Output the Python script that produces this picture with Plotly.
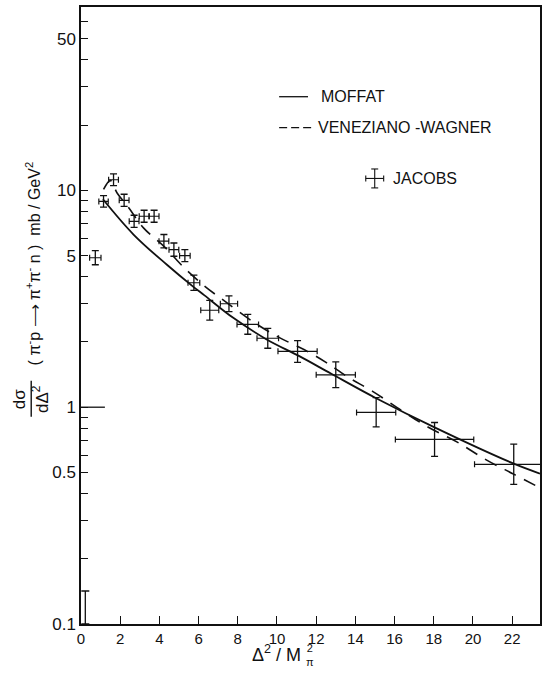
import plotly.graph_objects as go
import math

# ---------------- data ----------------
# Jacobs data points: Delta^2/M_pi^2 and d(sigma)/d(Delta^2) in mb/GeV^2
jac_x = [0.73, 1.15, 1.66, 2.2, 2.71, 3.22, 3.73, 4.23, 4.74, 5.3, 5.76,
         6.57, 7.55, 8.51, 9.53, 11.05, 13.0, 15.06, 18.04, 22.08]
jac_y = [4.89, 8.9, 11.2, 9.0, 7.2, 7.6, 7.6, 5.83, 5.33, 5.0, 3.75,
         2.80, 3.0, 2.41, 2.08, 1.81, 1.41, 0.946, 0.71, 0.545]
jac_xerr = [0.29, 0.24, 0.25, 0.25, 0.25, 0.25, 0.25, 0.25, 0.25, 0.27, 0.3,
            0.46, 0.44, 0.55, 0.55, 1.0, 1.0, 1.0, 2.0, 2.0]
jac_yerr_up = [0.38, 0.56, 0.71, 0.6, 0.48, 0.5, 0.5, 0.43, 0.39, 0.33, 0.32,
               0.31, 0.26, 0.27, 0.23, 0.22, 0.21, 0.16, 0.14, 0.13]
jac_yerr_dn = [0.35, 0.53, 0.67, 0.56, 0.45, 0.47, 0.47, 0.4, 0.36, 0.31, 0.29,
               0.28, 0.24, 0.24, 0.21, 0.20, 0.18, 0.135, 0.117, 0.104]

# off-scale point near the origin (only its upper error bar is visible)
off_x = [0.22]
off_y = [0.1]
off_up = [0.042]

# Moffat curve (solid)
moffat_x = [1.12, 2.68, 4.37, 5.72, 6.3, 7.75, 9.45, 11.14, 12.75, 15.06,
            18.04, 22.08, 23.42]
moffat_y = [9.1, 6.26, 4.55, 3.6, 3.28, 2.59, 2.06, 1.72, 1.43, 1.10,
            0.807, 0.549, 0.494]

# Veneziano-Wagner curve (dashed)
vw_x = [1.15, 1.5, 1.85, 2.4, 3.2, 4.3, 5.1, 6.3, 7.3, 8.8, 10.1, 11.4,
        12.5, 13.6, 14.9, 16.4, 17.7, 19.2, 20.7, 22.1, 23.3]
vw_y = [10.1, 11.1, 9.7, 8.4, 6.7, 5.45, 4.55, 3.62, 3.1, 2.47, 2.1, 1.84,
        1.61, 1.38, 1.18, 0.96, 0.81, 0.69, 0.57, 0.49, 0.43]

# axes
x_tick_vals = [0, 2, 4, 6, 8, 10, 12, 14, 16, 18, 20, 22]
y_tick_vals = [0.1, 0.5, 1, 5, 10, 50]
y_tick_text = ["0.1", "0.5", "1", "5", "10", "50"]
y_minor_vals = [0.2, 0.3, 0.4, 0.6, 0.7, 0.8, 0.9, 2, 3, 4, 6, 7, 8, 9,
                20, 30, 40, 60]
y_long_ticks = [0.5, 1, 10]

FONT = "Liberation Sans, Arial, sans-serif"
INK = "#111111"

fig = go.Figure()

fig.add_trace(go.Scatter(
    x=moffat_x, y=moffat_y, mode="lines",
    line=dict(color=INK, width=1.8, shape="spline", smoothing=1.0),
    showlegend=False, hoverinfo="skip"))

fig.add_trace(go.Scatter(
    x=vw_x, y=vw_y, mode="lines",
    line=dict(color=INK, width=1.6, shape="spline", smoothing=1.0,
              dash="13px,9px"),
    showlegend=False, hoverinfo="skip"))

fig.add_trace(go.Scatter(
    x=jac_x, y=jac_y, mode="markers",
    marker=dict(size=1, color="rgba(0,0,0,0)"),
    error_x=dict(type="data", array=jac_xerr, color=INK, thickness=1.2, width=3),
    error_y=dict(type="data", symmetric=False, array=jac_yerr_up,
                 arrayminus=jac_yerr_dn, color=INK, thickness=1.3, width=3.5),
    showlegend=False, hoverinfo="skip"))

fig.add_trace(go.Scatter(
    x=off_x, y=off_y, mode="markers",
    marker=dict(size=1, color="rgba(0,0,0,0)"),
    error_y=dict(type="data", symmetric=False, array=off_up,
                 arrayminus=[0], color=INK, thickness=1.3, width=4),
    showlegend=False, hoverinfo="skip"))

# ---------------- layout ----------------
L, R, T, B = 81, 5, 5, 51
W, H = 547, 675
pw, ph = W - L - R, H - T - B


def px(xp):
    return (xp - L) / pw


def py(yp):
    return (H - B - yp) / ph


fig.update_layout(
    width=W, height=H,
    margin=dict(l=L, r=R, t=T, b=B),
    paper_bgcolor="white", plot_bgcolor="white",
    font=dict(family=FONT, color=INK),
    showlegend=False,
)

fig.update_xaxes(
    range=[0, 23.42], tickmode="array", tickvals=x_tick_vals,
    ticks="inside", ticklen=8, tickwidth=1.2, tickcolor=INK,
    showline=True, linecolor=INK, linewidth=1.5, mirror=True,
    showgrid=False, zeroline=False,
    tickfont=dict(size=15, family=FONT, color=INK),
)

fig.update_yaxes(
    type="log", range=[-1, 1.846], tickmode="array",
    tickvals=y_tick_vals, ticktext=y_tick_text,
    ticks="inside", ticklen=7, tickwidth=1.2, tickcolor=INK,
    showline=True, linecolor=INK, linewidth=1.5, mirror=True,
    showgrid=False, zeroline=False,
    tickfont=dict(size=17, family=FONT, color=INK),
    minor=dict(tickmode="array", tickvals=y_minor_vals, ticks="inside",
               ticklen=7, tickwidth=1.2, tickcolor=INK, showgrid=False),
)

shapes = []
for v in y_long_ticks:
    shapes.append(dict(type="line", xref="x domain", yref="y",
                       x0=0, x1=24 / pw, y0=math.log10(v), y1=math.log10(v),
                       line=dict(color=INK, width=1.3)))

# legend samples
shapes.append(dict(type="line", xref="paper", yref="paper",
                   x0=px(280), x1=px(309), y0=py(95), y1=py(95),
                   line=dict(color=INK, width=1.3)))
shapes.append(dict(type="line", xref="paper", yref="paper",
                   x0=px(280), x1=px(316), y0=py(126), y1=py(126),
                   line=dict(color=INK, width=1.3, dash="8px,4px")))
# Jacobs glyph
gx, gy = 376, 177
shapes += [
    dict(type="line", xref="paper", yref="paper", x0=px(gx - 9), x1=px(gx + 9),
         y0=py(gy), y1=py(gy), line=dict(color=INK, width=1.1)),
    dict(type="line", xref="paper", yref="paper", x0=px(gx - 9), x1=px(gx - 9),
         y0=py(gy - 3), y1=py(gy + 3), line=dict(color=INK, width=1.1)),
    dict(type="line", xref="paper", yref="paper", x0=px(gx + 9), x1=px(gx + 9),
         y0=py(gy - 3), y1=py(gy + 3), line=dict(color=INK, width=1.1)),
    dict(type="line", xref="paper", yref="paper", x0=px(gx), x1=px(gx),
         y0=py(gy - 9.5), y1=py(gy + 9.5), line=dict(color=INK, width=1.1)),
    dict(type="line", xref="paper", yref="paper", x0=px(gx - 3.5), x1=px(gx + 3.5),
         y0=py(gy - 9.5), y1=py(gy - 9.5), line=dict(color=INK, width=1.1)),
    dict(type="line", xref="paper", yref="paper", x0=px(gx - 3.5), x1=px(gx + 3.5),
         y0=py(gy + 9.5), y1=py(gy + 9.5), line=dict(color=INK, width=1.1)),
]
# fraction bar of d sigma / d Delta^2
shapes.append(dict(type="line", xref="paper", yref="paper",
                   x0=px(31), x1=px(31), y0=py(380), y1=py(416),
                   line=dict(color=INK, width=1.4)))

fig.update_layout(shapes=shapes)

ann = []
ann.append(dict(text="MOFFAT", xref="paper", yref="paper", x=px(320), y=py(95),
                xanchor="left", yanchor="middle", showarrow=False,
                font=dict(size=16, family=FONT, color=INK)))
ann.append(dict(text="VENEZIANO -WAGNER", xref="paper", yref="paper",
                x=px(317), y=py(126), xanchor="left", yanchor="middle",
                showarrow=False, font=dict(size=16, family=FONT, color=INK)))
ann.append(dict(text="JACOBS", xref="paper", yref="paper", x=px(392), y=py(177),
                xanchor="left", yanchor="middle", showarrow=False,
                font=dict(size=16, family=FONT, color=INK)))
# y axis title
ann.append(dict(text="( π<sup>-</sup>p ⟶ π<sup>+</sup>π<sup>-</sup> n )  mb / GeV<sup>2</sup>",
                xref="paper", yref="paper", x=px(33), y=py(262),
                xanchor="center", yanchor="middle", textangle=-90,
                showarrow=False, font=dict(size=16, family=FONT, color=INK)))
ann.append(dict(text="dσ<br>dΔ<sup>2</sup>", xref="paper", yref="paper",
                x=px(31), y=py(398), xanchor="center", yanchor="middle",
                textangle=-90, showarrow=False,
                font=dict(size=17, family=FONT, color=INK)))
# x axis title
ann.append(dict(text="Δ<sup>2</sup> / M", xref="paper", yref="paper",
                x=px(304), y=py(654), xanchor="right", yanchor="middle",
                showarrow=False, font=dict(size=18, family=FONT, color=INK)))
ann.append(dict(text="2<br>π", xref="paper", yref="paper",
                x=px(305), y=py(655), xanchor="left", yanchor="middle",
                showarrow=False, font=dict(size=11, family=FONT, color=INK)))
fig.update_layout(annotations=ann)

fig.write_html("out.html",
               config={"displayModeBar": False},
               post_script="document.body.style.margin='0';"
                           "document.body.style.padding='0';")
